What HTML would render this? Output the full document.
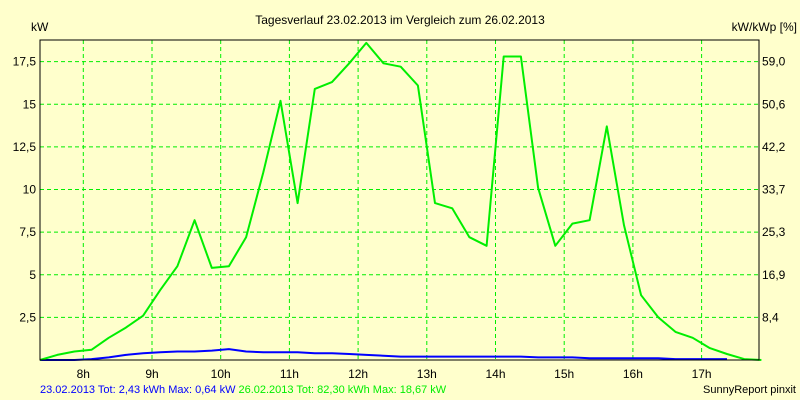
<!DOCTYPE html>
<html><head><meta charset="utf-8"><style>
body{margin:0;background:#ffffcc;}
svg{display:block;font-family:"Liberation Sans",sans-serif;}
</style></head><body>
<svg id="chart" width="800" height="400" viewBox="0 0 800 400">
<rect x="0" y="0" width="800" height="400" fill="#ffffcc"/>
<text x="400" y="24" font-size="12" text-anchor="middle" fill="#000">Tagesverlauf 23.02.2013 im Vergleich zum 26.02.2013</text>
<text x="31" y="31" font-size="12" fill="#000">kW</text>
<text x="797" y="31" font-size="12" fill="#000" text-anchor="end">kW/kWp [%]</text>
<g id="grid"></g>
<g id="series"></g>
<rect x="40" y="40" width="719" height="320" fill="none" stroke="#000" stroke-width="1"/>
<g id="labels"></g>
<text x="40" y="393" font-size="11"><tspan fill="#0000ff">23.02.2013 Tot: 2,43 kWh Max: 0,64 kW</tspan><tspan fill="#00ee00" dx="3">26.02.2013 Tot: 82,30 kWh Max: 18,67 kW</tspan></text>
<text x="796" y="393" font-size="11" text-anchor="end" fill="#000">SunnyReport pinxit</text>
</svg>
<script>
const hourTicks = [8,9,10,11,12,13,14,15,16,17];
const leftTicks = [2.5,5,7.5,10,12.5,15,17.5];
const leftTickLabels = ["2,5","5","7,5","10","12,5","15","17,5"];
const rightTickLabels = ["8,4","16,9","25,3","33,7","42,2","50,6","59,0"];
const startHour = 7.37;
const stepHour = 0.25;
const green = [0,0.3,0.5,0.6,1.3,1.9,2.6,4.1,5.5,8.2,5.4,5.5,7.2,11.0,15.2,9.2,15.9,16.3,17.4,18.6,17.4,17.2,16.1,9.2,8.9,7.2,6.7,17.8,17.8,10.1,6.7,8.0,8.2,13.7,7.9,3.8,2.5,1.65,1.3,0.7,0.35,0.05,0];
const blue = [0,0,0,0.05,0.15,0.3,0.4,0.45,0.5,0.5,0.55,0.64,0.5,0.45,0.45,0.45,0.4,0.4,0.35,0.3,0.25,0.2,0.2,0.2,0.2,0.2,0.2,0.2,0.2,0.15,0.15,0.15,0.1,0.1,0.1,0.1,0.1,0.05,0.05,0.05,0.05];

const NS="http://www.w3.org/2000/svg";
function xs(h){return 83.3+(h-8)*68.7;}
function ys(v){return 360-v*17.05;}
function mk(tag,parent){const e=document.createElementNS(NS,tag);document.getElementById(parent).appendChild(e);return e;}

hourTicks.forEach((h,i)=>{
  const l=mk('line','grid');
  
  
  l.setAttribute('x1',xs(h));l.setAttribute('x2',xs(h));l.setAttribute('y1',40);l.setAttribute('y2',360);
  l.setAttribute('stroke','#00ee00');l.setAttribute('stroke-dasharray','4,3');
  const t=mk('text','labels');
  
  
  t.setAttribute('x',xs(h));t.setAttribute('y',378);t.setAttribute('font-size','12');t.setAttribute('text-anchor','middle');
  t.textContent=h+'h';
});
leftTicks.forEach((v,i)=>{
  const l=mk('line','grid');
  
  
  l.setAttribute('x1',40);l.setAttribute('x2',759);l.setAttribute('y1',ys(v));l.setAttribute('y2',ys(v));
  l.setAttribute('stroke','#00ee00');l.setAttribute('stroke-dasharray','4,3');
  const t=mk('text','labels');
  
  
  t.setAttribute('x',36);t.setAttribute('y',ys(v)+4);t.setAttribute('font-size','12');t.setAttribute('text-anchor','end');
  t.textContent=leftTickLabels[i];
  const r=mk('text','labels');
  
  
  r.setAttribute('x',762);r.setAttribute('y',ys(v)+4);r.setAttribute('font-size','12');
  r.textContent=rightTickLabels[i];
});
function line(arr,color,name){
  const p=mk('polyline','series');
  
  
  p.setAttribute('points',arr.map((v,i)=>xs(startHour+i*stepHour).toFixed(1)+','+ys(v).toFixed(1)).join(' '));
  p.setAttribute('fill','none');p.setAttribute('stroke',color);p.setAttribute('stroke-width','2');p.setAttribute('stroke-linejoin','round');
}
line(blue,'#0000ff','series-23-02-2013');
line(green,'#00ee00','series-26-02-2013');
</script>
</body></html>
